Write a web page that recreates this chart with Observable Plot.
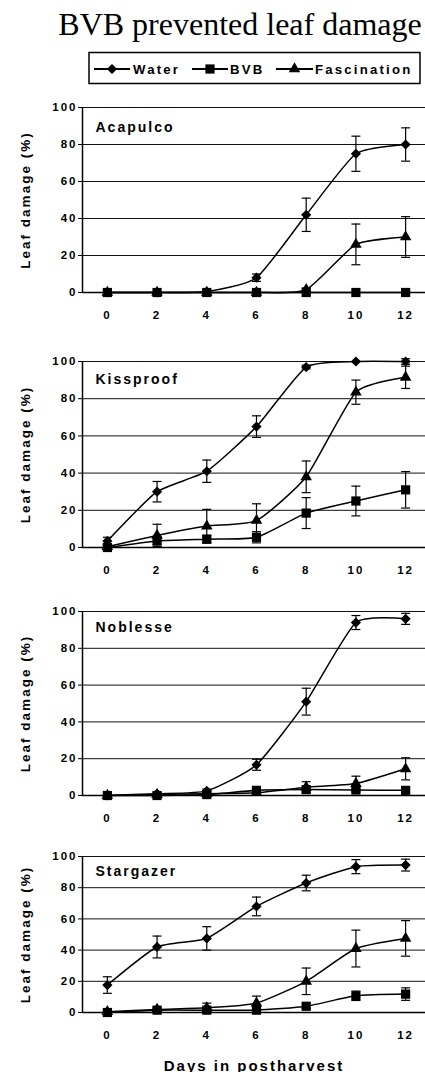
<!DOCTYPE html>
<html>
<head>
<meta charset="utf-8">
<script src="https://cdn.jsdelivr.net/npm/d3@7"></script>
<script src="https://cdn.jsdelivr.net/npm/@observablehq/plot@0.6"></script>
<style>
  body { margin: 0; background: #fff; }
  #page { position: relative; width: 425px; height: 1072px; overflow: hidden; background: #fff; }
  .panel { position: absolute; left: 0; }
</style>
</head>
<body>
<div id="page"></div>
<script>
// ---------- data ----------
const chartTitle = "BVB prevented leaf damage";
const seriesNames = ["Water", "BVB", "Fascination"];
const cultivars = ["Acapulco", "Kissproof", "Noblesse", "Stargazer"];
const days = [0, 2, 4, 6, 8, 10, 12];
const xTicks = [0, 2, 4, 6, 8, 10, 12];
const yTicks = [0, 20, 40, 60, 80, 100];
const yLabel = "Leaf damage (%)";
const xLabel = "Days in postharvest";

const acapulcoWater = [0, 0, 0.5, 8, 42, 75, 80];
const acapulcoWaterErr = [0, 0, 0.5, 2, 9, 9.5, 9];
const acapulcoBVB = [0, 0, 0, 0, 0, 0, 0];
const acapulcoBVBErr = [0, 0, 0, 0, 0, 0, 0];
const acapulcoFasc = [0, 0, 0, 0, 1.5, 26, 30];
const acapulcoFascErr = [0, 0, 0, 0, 1, 11, 11];

const kissproofWater = [3.5, 30, 41, 65, 97, 100, 100];
const kissproofWaterErr = [2, 5.5, 6, 5.8, 1, 0, 1.5];
const kissproofBVB = [0, 3.5, 4.5, 5.5, 18.5, 25, 31];
const kissproofBVBErr = [1, 2, 2, 3, 8.3, 8, 9.8];
const kissproofFasc = [0.5, 6.5, 11.5, 14.5, 38, 83.5, 91.5];
const kissproofFascErr = [1, 6, 9, 9, 8.5, 6.5, 6];

const noblesseWater = [0, 1, 2.5, 16.7, 51, 94, 96];
const noblesseWaterErr = [0, 0.5, 1, 3, 7.3, 3.8, 3];
const noblesseBVB = [0, 0, 0.5, 2.8, 3.2, 3, 2.8];
const noblesseBVBErr = [0, 0, 0.5, 1, 1, 1, 1];
const noblesseFasc = [0, 0.5, 1, 1.5, 4.5, 6.5, 14.5];
const noblesseFascErr = [0, 0.5, 0.5, 1, 3, 4, 6];

const stargazerWater = [17.6, 42, 47.5, 68, 83, 93.5, 94.5];
const stargazerWaterErr = [5.3, 7, 7.5, 6, 5, 4.5, 3.8];
const stargazerBVB = [0, 1.5, 1.5, 1.5, 4, 10.7, 11.8];
const stargazerBVBErr = [0.5, 1, 1, 1, 1.5, 3, 4];
const stargazerFasc = [0.5, 2, 3, 6, 20, 41, 47.5];
const stargazerFascErr = [0.5, 1, 3, 4.5, 8.5, 11.8, 11.4];

// ---------- layout / style ----------
const FONT = "'Liberation Sans', Arial, Helvetica, sans-serif";
const xDomain = [-1, 12.8];
const symbolFor = {Water: "diamond2", BVB: "square", Fascination: "triangle"};
const rFor = {Water: 4.6, BVB: 5.2, Fascination: 4.3};
const lineCurve = d3.curveCardinal.tension(0.45);

const panels = [
  {name: cultivars[0], s: [[acapulcoWater, acapulcoWaterErr], [acapulcoBVB, acapulcoBVBErr], [acapulcoFasc, acapulcoFascErr]], top: 95, plotH: 185, mb: 35, titleDy: 24},
  {name: cultivars[1], s: [[kissproofWater, kissproofWaterErr], [kissproofBVB, kissproofBVBErr], [kissproofFasc, kissproofFascErr]], top: 349, plotH: 186, mb: 35, titleDy: 22},
  {name: cultivars[2], s: [[noblesseWater, noblesseWaterErr], [noblesseBVB, noblesseBVBErr], [noblesseFasc, noblesseFascErr]], top: 599, plotH: 184, mb: 35, titleDy: 20},
  {name: cultivars[3], s: [[stargazerWater, stargazerWaterErr], [stargazerBVB, stargazerBVBErr], [stargazerFasc, stargazerFascErr]], top: 844, plotH: 156, mb: 60, titleDy: 19, xlabel: true}
];

const page = d3.select("#page");

// ---------- header: title + legend ----------
const header = page.append("svg")
  .attr("width", 425).attr("height", 92)
  .style("position", "absolute").style("left", "0px").style("top", "0px");
header.append("text")
  .attr("x", 240).attr("y", 35).attr("text-anchor", "middle")
  .style("font-family", "'Liberation Serif', 'Times New Roman', serif")
  .style("font-size", "32px")
  .text(chartTitle);
header.append("rect")
  .attr("x", 89).attr("y", 52.5).attr("width", 331).attr("height", 31)
  .attr("fill", "none").attr("stroke", "#000").attr("stroke-width", 1.5);
const legendLayout = [
  {x1: 94, x2: 130, tx: 133},
  {x1: 192, x2: 228, tx: 230},
  {x1: 276, x2: 313, tx: 315}
];
const d3Sym = {diamond2: d3.symbolDiamond2 || d3.symbolDiamond, square: d3.symbolSquare, triangle: d3.symbolTriangle};
seriesNames.forEach((name, i) => {
  const L = legendLayout[i];
  const yLine = 69;
  header.append("line").attr("x1", L.x1).attr("x2", L.x2).attr("y1", yLine).attr("y2", yLine)
    .attr("stroke", "#000").attr("stroke-width", 2);
  const r = rFor[name];
  header.append("path")
    .attr("transform", `translate(${(L.x1 + L.x2) / 2},${yLine})`)
    .attr("d", d3.symbol(d3Sym[symbolFor[name]], Math.PI * r * r)())
    .attr("fill", "#000");
  header.append("text")
    .attr("x", L.tx).attr("y", 73.5)
    .style("font-family", FONT).style("font-weight", "bold")
    .style("font-size", "13.2px").style("letter-spacing", "2.2px")
    .text(name);
});

// ---------- panels ----------
const capSymbol = {draw(ctx) { ctx.moveTo(-4.5, 0); ctx.lineTo(4.5, 0); }};

panels.forEach(p => {
  const rows = [];
  seriesNames.forEach((name, k) => {
    const [means, errs] = p.s[k];
    days.forEach((d, i) => rows.push({day: d, value: means[i], err: errs[i], series: name}));
  });
  const withErr = rows.filter(d => d.err > 0);
  const marginTop = 12;
  const height = marginTop + p.plotH + p.mb;

  const marks = [
    Plot.ruleY(yTicks.filter(t => t > 0), {stroke: "#111", strokeWidth: 1}),
    Plot.ruleX([xDomain[0]], {stroke: "#000", strokeWidth: 1.5}),
    Plot.ruleY([0], {stroke: "#000", strokeWidth: 1.5}),
    Plot.axisY(yTicks, {tickSize: 4, tickPadding: 1, label: null, fontWeight: "bold"}),
    Plot.axisX(xTicks, {tickSize: 0, tickPadding: 18, label: null, fontWeight: "bold"}),
    Plot.ruleX(withErr, {x: "day", y1: d => d.value - d.err, y2: d => d.value + d.err, stroke: "#000", strokeWidth: 1.2}),
    Plot.dot(withErr, {x: "day", y: d => d.value + d.err, symbol: capSymbol, fill: "none", stroke: "#000", strokeWidth: 1.2}),
    Plot.dot(withErr, {x: "day", y: d => d.value - d.err, symbol: capSymbol, fill: "none", stroke: "#000", strokeWidth: 1.2}),
    Plot.line(rows, {x: "day", y: "value", z: "series", curve: lineCurve, stroke: "#000", strokeWidth: 1.5})
  ];
  seriesNames.forEach(name => {
    marks.push(Plot.dot(rows.filter(d => d.series === name), {x: "day", y: "value", symbol: symbolFor[name], r: rFor[name], fill: "#000", stroke: "none"}));
  });
  marks.push(Plot.text([p.name], {text: d => d, frameAnchor: "top-left", textAnchor: "start", lineAnchor: "bottom", dx: 13, dy: p.titleDy, fontSize: 14, fontWeight: "bold", ariaLabel: "panel-title"}));
  marks.push(Plot.text([yLabel], {text: d => d, frameAnchor: "left", rotate: -90, textAnchor: "middle", lineAnchor: "middle", dx: -57, fontSize: 13.5, fontWeight: "bold", ariaLabel: "y-label"}));
  if (p.xlabel) {
    marks.push(Plot.text([xLabel], {text: d => d, frameAnchor: "bottom", textAnchor: "middle", lineAnchor: "bottom", dy: 58, fontSize: 15, fontWeight: "bold", ariaLabel: "x-label"}));
  }

  const chart = Plot.plot({
    width: 425,
    height,
    marginLeft: 82,
    marginRight: 0,
    marginTop,
    marginBottom: p.mb,
    x: {domain: xDomain},
    y: {domain: [0, 100]},
    style: {fontFamily: FONT, fontSize: "11.5px", fontWeight: "bold", color: "#000", background: "transparent", letterSpacing: "2px", overflow: "visible"},
    marks
  });
  const div = page.append("div").attr("class", "panel").style("top", p.top + "px");
  div.node().appendChild(chart);
  d3.select(chart).selectAll('g[aria-label="panel-title"] text').style("letter-spacing", "2.8px");
  d3.select(chart).selectAll('g[aria-label="y-label"] text').style("letter-spacing", "2.4px");
  d3.select(chart).selectAll('g[aria-label="x-label"] text').style("letter-spacing", "1.3px");
});
</script>
</body>
</html>
